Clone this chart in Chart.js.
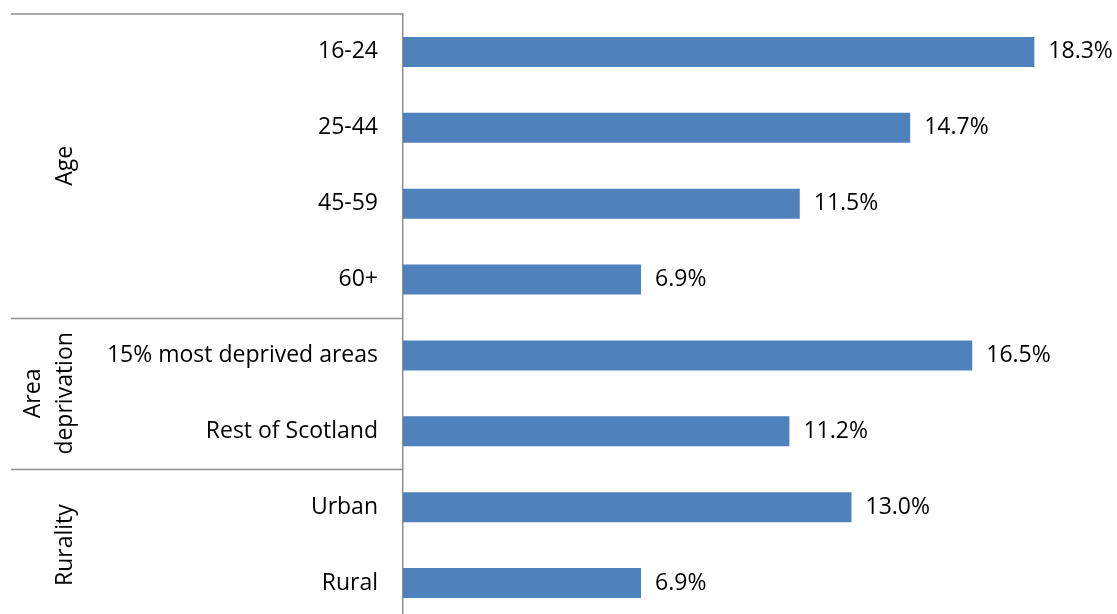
<!DOCTYPE html>
<html>
<head>
<meta charset="utf-8">
<script src="https://cdn.jsdelivr.net/npm/chart.js@4/dist/chart.umd.min.js"></script>
<style>
  html, body { margin: 0; padding: 0; background: #fff; overflow: hidden; }
  canvas { display: block; }
</style>
</head>
<body>
<canvas id="chart" width="1117" height="640"></canvas>
<script>
// Rows, top to bottom
const categories = ["16-24", "25-44", "45-59", "60+", "15% most deprived areas", "Rest of Scotland", "Urban", "Rural"];
const values = [18.3, 14.7, 11.5, 6.9, 16.5, 11.2, 13.0, 6.9];

// Outer label groups (lines of each label, and how many rows each covers)
const groupLabels = [["Age"], ["Area", "deprivation"], ["Rurality"]];
const groupSizes = [4, 2, 2];

const FONT = "'Open Sans', sans-serif";
const FONT_SIZE = 23;
const LINE_COLOR = "#8f8f8f";

// Group labels and separators on the left of the axis
const groupAxis = {
  id: "groupAxis",
  afterDraw(chart) {
    const ctx = chart.ctx;
    const y = chart.scales.y;
    const top = chart.chartArea.top;
    const half = (y.getPixelForValue(1) - y.getPixelForValue(0)) / 2;

    ctx.save();
    ctx.strokeStyle = LINE_COLOR;
    ctx.lineWidth = 1.5;
    ctx.beginPath();
    ctx.moveTo(11, top);
    ctx.lineTo(y.right, top);
    ctx.stroke();

    let start = 0;
    groupSizes.forEach((size, g) => {
      const end = start + size - 1;
      const y0 = y.getPixelForValue(start) - half;
      const y1 = y.getPixelForValue(end) + half;

      if (g < groupSizes.length - 1) {
        ctx.beginPath();
        ctx.moveTo(11, Math.round(y1) + 0.5);
        ctx.lineTo(y.right, Math.round(y1) + 0.5);
        ctx.stroke();
      }

      const lines = groupLabels[g];
      const mid = (y0 + y1) / 2;
      ctx.fillStyle = "#000";
      ctx.font = FONT_SIZE + "px " + FONT;
      ctx.textAlign = "center";
      ctx.textBaseline = "alphabetic";
      lines.forEach((text, i) => {
        const bx = 72 - (lines.length - 1 - i) * 32;
        ctx.save();
        ctx.translate(bx, mid);
        ctx.rotate(-Math.PI / 2);
        ctx.fillText(text, 0, 0);
        ctx.restore();
      });
      start += size;
    });
    ctx.restore();
  }
};

// Percentage labels at the end of each bar
const valueLabels = {
  id: "valueLabels",
  afterDatasetsDraw(chart) {
    const ctx = chart.ctx;
    const meta = chart.getDatasetMeta(0);
    ctx.save();
    ctx.fillStyle = "#000";
    ctx.font = FONT_SIZE + "px " + FONT;
    ctx.textAlign = "left";
    ctx.textBaseline = "middle";
    meta.data.forEach((bar, i) => {
      ctx.fillText(values[i].toFixed(1) + "%", bar.x + 14, bar.y);
    });
    ctx.restore();
  }
};

new Chart(document.getElementById("chart"), {
  type: "bar",
  data: {
    labels: categories,
    datasets: [{
      data: values,
      backgroundColor: "#4f81bd",
      borderWidth: 0,
      barPercentage: 0.395,
      categoryPercentage: 1
    }]
  },
  options: {
    indexAxis: "y",
    responsive: false,
    animation: false,
    layout: { padding: { top: 14, right: 24, bottom: 19, left: 0 } },
    plugins: {
      legend: { display: false },
      tooltip: { enabled: false }
    },
    scales: {
      x: {
        display: false,
        min: 0,
        max: 20
      },
      y: {
        grid: { display: false, drawTicks: false },
        border: { display: true, color: LINE_COLOR, width: 1.5 },
        ticks: {
          padding: 25,
          color: "#000",
          font: { family: FONT, size: FONT_SIZE }
        },
        afterFit(scale) {
          scale.width = 403;
          scale.paddingTop = 0;
          scale.paddingBottom = 0;
        }
      }
    }
  },
  plugins: [groupAxis, valueLabels]
});
</script>
</body>
</html>
